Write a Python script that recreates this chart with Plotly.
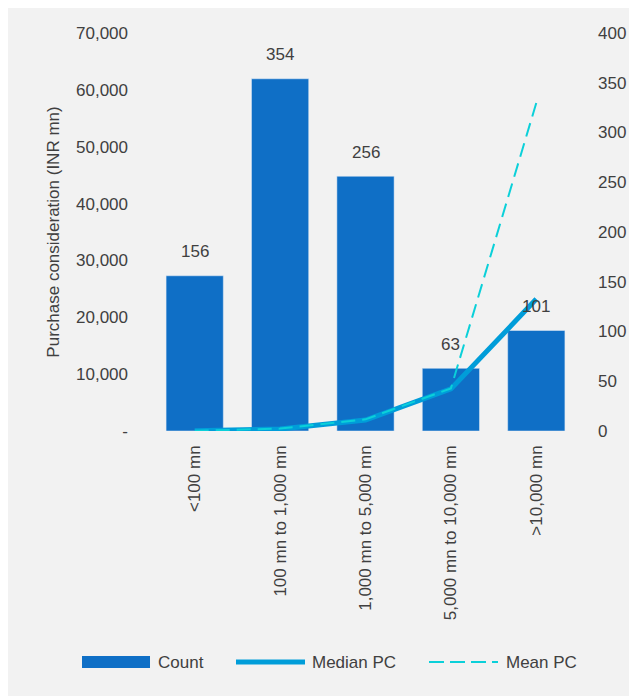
import plotly.graph_objects as go

categories = ["<100 mn", "100 mn to 1,000 mn", "1,000 mn to 5,000 mn",
              "5,000 mn to 10,000 mn", ">10,000 mn"]
count = [156, 354, 256, 63, 101]
median_pc = [30, 350, 1930, 7400, 23200]
mean_pc = [40, 420, 2050, 7500, 57700]

left_ticks = [0, 10000, 20000, 30000, 40000, 50000, 60000, 70000]
left_ticktext = ["-", "10,000", "20,000", "30,000", "40,000", "50,000", "60,000", "70,000"]
right_ticks = [0, 50, 100, 150, 200, 250, 300, 350, 400]

FONT = "Liberation Sans, Arial, sans-serif"
FS = 17
TXT = "#404040"
BAR = "#0F6FC6"
MED = "#009DD9"
MEAN = "#0BD0D9"

OFF = 8  # page body margin
W, H = 637 - OFF, 696 - OFF
# plot area in window pixels: x 152..579, y 33..431
L, R, T, B = 152 - OFF, W - (579 - OFF), 33 - OFF, H - (431 - OFF)
pw, ph = W - L - R, H - T - B


def px(x):
    return (x - OFF - L) / pw


def py(y):
    return (H - B - (y - OFF)) / ph


fig = go.Figure()
fig.add_trace(go.Bar(x=categories, y=count, name="Count", marker_color=BAR,
                     yaxis="y", showlegend=False))
fig.add_trace(go.Scatter(x=categories, y=median_pc, name="Median PC", mode="lines",
                         line=dict(color=MED, width=5), yaxis="y2", showlegend=False))
fig.add_trace(go.Scatter(x=categories, y=mean_pc, name="Mean PC", mode="lines",
                         line=dict(color=MEAN, width=2, dash="14px,7px"), yaxis="y2",
                         showlegend=False))

annotations = []
for c, v in zip(categories, count):
    annotations.append(dict(x=c, y=v, xref="x", yref="y", text=str(v), showarrow=False,
                            yanchor="middle", yshift=24,
                            font=dict(family=FONT, size=FS, color=TXT)))

# custom legend
shapes = [
    dict(type="rect", xref="paper", yref="paper", x0=px(82), x1=px(150), y0=py(668), y1=py(656),
         fillcolor=BAR, line=dict(width=0)),
    dict(type="line", xref="paper", yref="paper", x0=px(236), x1=px(305), y0=py(662), y1=py(662),
         line=dict(color=MED, width=5)),
    dict(type="line", xref="paper", yref="paper", x0=px(429), x1=px(498), y0=py(662), y1=py(662),
         line=dict(color=MEAN, width=2, dash="15px,6px")),
]
for label, x in [("Count", 156), ("Median PC", 310), ("Mean PC", 504)]:
    annotations.append(dict(x=px(x), y=py(662), xref="paper", yref="paper", text=label,
                            showarrow=False, xanchor="left", yanchor="middle",
                            font=dict(family=FONT, size=FS, color=TXT)))

fig.update_layout(
    width=W, height=H,
    margin=dict(l=L, r=R, t=T, b=B, pad=0),
    paper_bgcolor="#F2F2F2", plot_bgcolor="rgba(0,0,0,0)",
    font=dict(family=FONT, size=FS, color=TXT),
    bargap=0.33,
    showlegend=False,
    xaxis=dict(tickangle=-90, showgrid=False, zeroline=False, showline=False,
               ticklabelstandoff=10, tickfont=dict(size=FS, color=TXT)),
    yaxis=dict(range=[0, 400], tickvals=right_ticks, side="right",
               showgrid=False, zeroline=False, showline=False, ticklabelstandoff=18,
               tickfont=dict(size=FS, color=TXT)),
    yaxis2=dict(range=[0, 70000], tickvals=left_ticks, ticktext=left_ticktext,
                overlaying="y", side="left",
                showgrid=False, zeroline=False, showline=False, ticklabelstandoff=23,
                title=dict(text="Purchase consideration (INR mn)", standoff=12,
                           font=dict(size=FS, color=TXT)),
                tickfont=dict(size=FS, color=TXT)),
    shapes=shapes,
    annotations=annotations,
)

fig.write_html("out.html")
